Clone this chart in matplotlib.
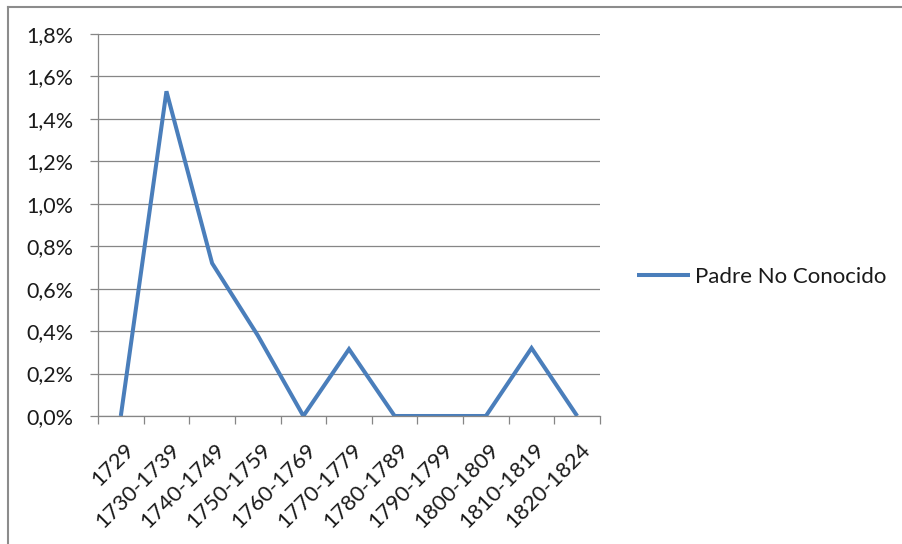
import matplotlib
matplotlib.use("Agg")
import matplotlib.pyplot as plt
from matplotlib.lines import Line2D
from matplotlib.ticker import FixedLocator, FuncFormatter
from matplotlib.transforms import ScaledTranslation

periods = ["1729", "1730-1739", "1740-1749", "1750-1759", "1760-1769",
           "1770-1779", "1780-1789", "1790-1799", "1800-1809", "1810-1819",
           "1820-1824"]
padre_no_conocido = [0.0, 1.53, 0.72, 0.38, 0.0, 0.315, 0.0, 0.0, 0.0, 0.32, 0.0]
y_ticks = [0.0, 0.2, 0.4, 0.6, 0.8, 1.0, 1.2, 1.4, 1.6, 1.8]
series_name = "Padre No Conocido"

plt.rcParams["font.family"] = ["Lato", "DejaVu Sans"]

W, H = 903, 544
fig = plt.figure(figsize=(W / 100, H / 100), dpi=100)
fig.patch.set_facecolor("white")

# plot area in pixel coordinates
left, right, top, bottom = 98, 600, 34, 416
ax = fig.add_axes([left / W, 1 - bottom / H, (right - left) / W, (bottom - top) / H])

x = list(range(len(periods)))
line, = ax.plot(x, padre_no_conocido, color="#4A7EBB", lw=2.9,
                solid_joinstyle="miter", solid_capstyle="butt", label=series_name)

ax.set_xlim(-0.5, len(periods) - 0.5)
ax.set_ylim(0, 1.8)

grid_c = "#868686"
txt_c = "#1a1a1a"
ax.set_yticks(y_ticks)
ax.yaxis.set_major_formatter(FuncFormatter(lambda v, p: f"{v:.1f}%".replace(".", ",")))
ax.grid(axis="y", color=grid_c, lw=0.9)
ax.set_axisbelow(True)

# category boundaries carry tick marks, labels sit at category centres
ax.xaxis.set_major_locator(FixedLocator([i - 0.5 for i in range(len(periods) + 1)]))
ax.xaxis.set_major_formatter(FuncFormatter(lambda v, p: ""))
ax.tick_params(axis="x", which="major", direction="out", length=5.5, color=grid_c, width=0.9)
ax.set_xticks(x, minor=True)
ax.set_xticklabels(periods, minor=True, rotation=45, ha="right", va="center",
                   rotation_mode="anchor", fontsize=15.8, color=txt_c)
ax.tick_params(axis="x", which="minor", length=0, pad=22)
shift = ScaledTranslation(10 / 100, 0, fig.dpi_scale_trans)
for lab in ax.get_xticklabels(minor=True):
    lab.set_transform(lab.get_transform() + shift)

ax.tick_params(axis="y", direction="out", length=5.8, color=grid_c, width=0.9,
               labelsize=15.5, labelcolor=txt_c, pad=12)

for side in ("top", "right"):
    ax.spines[side].set_visible(False)
for side in ("left", "bottom"):
    ax.spines[side].set_color(grid_c)
    ax.spines[side].set_linewidth(0.9)

# legend to the right of the plot area
leg = fig.legend(handles=[line], labels=[series_name], loc="center left",
                 bbox_to_anchor=(637 / W, 1 - 277 / H), frameon=False,
                 fontsize=16, handlelength=2.39, handletextpad=0.2,
                 borderaxespad=0, borderpad=0, labelcolor=txt_c)

# outer chart frame
frame_c = "#8c8c8c"
fig.add_artist(Line2D([8 / W, 8 / W], [0, 1 - 7 / H], transform=fig.transFigure,
                      color=frame_c, lw=1.5))
fig.add_artist(Line2D([8 / W, 1], [1 - 7 / H, 1 - 7 / H], transform=fig.transFigure,
                      color=frame_c, lw=1.5))

fig.canvas.draw()
fig.savefig("out.png", dpi=100, facecolor="white")
